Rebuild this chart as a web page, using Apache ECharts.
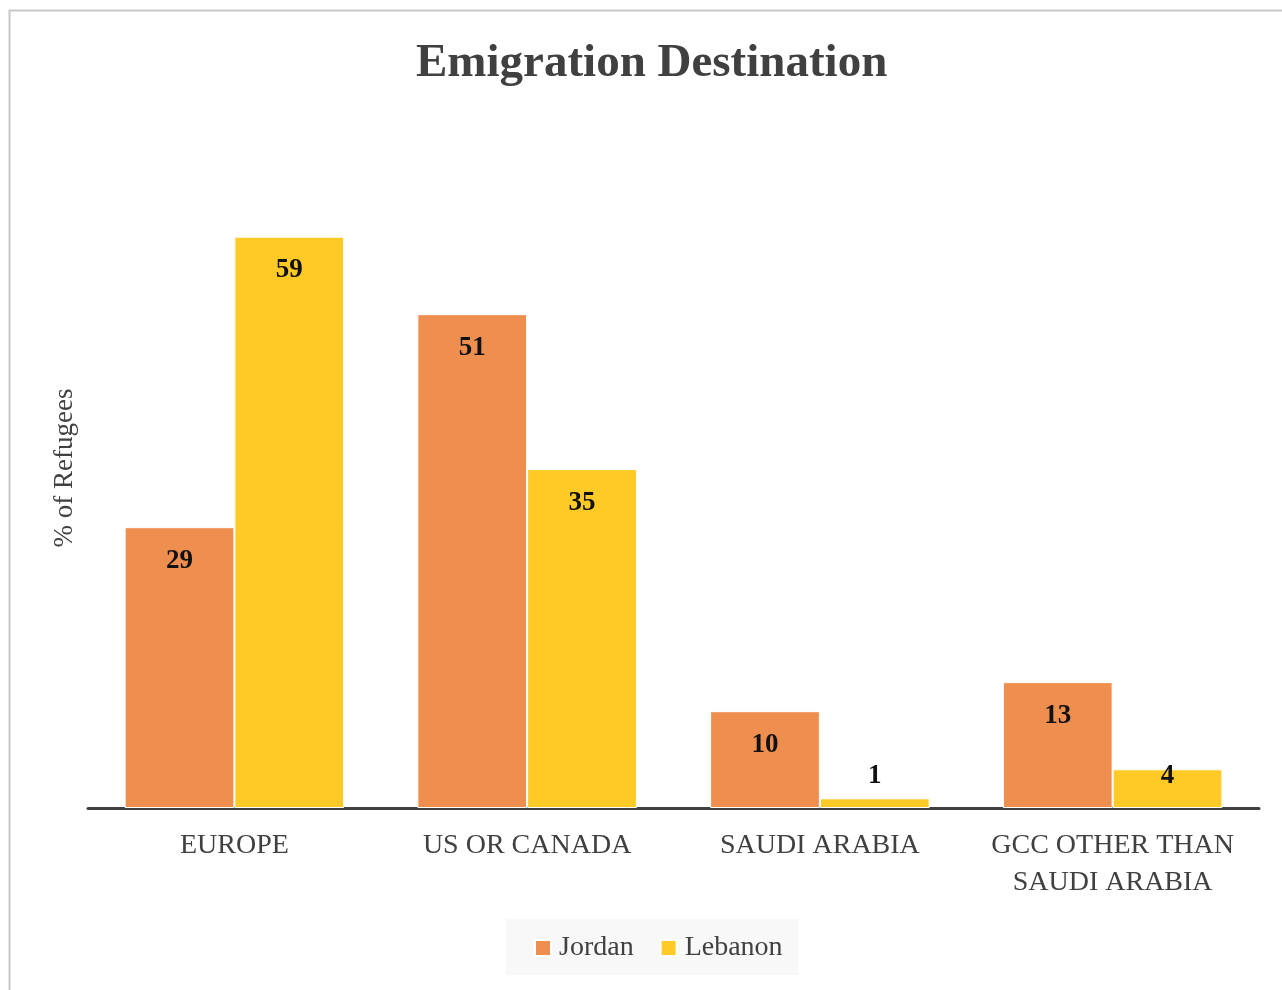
<!DOCTYPE html>
<html>
<head>
<meta charset="utf-8">
<script src="https://cdn.jsdelivr.net/npm/echarts@6/dist/echarts.min.js"></script>
<style>
html,body{margin:0;padding:0;background:#fff;}
#c{width:1282px;height:990px;}
</style>
</head>
<body>
<div id="c"></div>
<script>
const titleText = 'Emigration Destination';
const yAxisTitle = '% of Refugees';
const categories = ['EUROPE', 'US OR CANADA', 'SAUDI ARABIA', 'GCC OTHER THAN\nSAUDI ARABIA'];
const seriesNames = ['Jordan', 'Lebanon'];
const jordan = [29, 51, 10, 13];
const lebanon = [59, 35, 1, 4];

const FONT = '"Liberation Serif", "DejaVu Serif", serif';
const colors = ['#EF8F4F', '#FFC926'];

function makeData(vals) {
  return vals.map(v => {
    if (v < 5) {
      return { value: v, label: { position: 'insideBottom', distance: 18 } };
    }
    return { value: v };
  });
}

const chart = echarts.init(document.getElementById('c'), null, { renderer: 'canvas' });
const barLabel = {
  show: true,
  position: 'insideTop',
  distance: 20,
  fontFamily: FONT,
  fontWeight: 'bold',
  fontSize: 27,
  lineHeight: 27,
  color: '#111'
};
chart.setOption({
  animation: false,
  backgroundColor: '#fff',
  color: colors,
  title: {
    text: titleText,
    left: 411,
    top: 35,
    padding: [5, 5, 5, 5],
    textStyle: { fontFamily: FONT, fontWeight: 'bold', fontSize: 47, color: '#404040' }
  },
  graphic: [
    {
      type: 'rect',
      shape: { x: 9.5, y: 10.5, width: 1400, height: 1100 },
      style: { fill: 'none', stroke: '#c8c8c8', lineWidth: 2 },
      silent: true
    },
    {
      type: 'text',
      x: 65,
      y: 468,
      rotation: Math.PI / 2,
      style: {
        text: yAxisTitle,
        fontFamily: FONT,
        fontSize: 27,
        fill: '#404040',
        textAlign: 'center',
        textVerticalAlign: 'middle'
      },
      silent: true
    }
  ],
  legend: {
    data: seriesNames,
    left: 506,
    top: 919,
    backgroundColor: '#f8f8f8',
    padding: [15, 16, 13, 28],
    itemWidth: 16,
    itemHeight: 16,
    itemGap: 26,
    icon: 'rect',
    textStyle: { fontFamily: FONT, fontSize: 28, color: '#404040', padding: [0, 0, 0, 3] }
  },
  grid: { left: 88, right: 23, top: 227, bottom: 182, containLabel: false },
  xAxis: {
    type: 'category',
    data: categories,
    axisLine: { show: true, lineStyle: { color: '#404040', width: 3 } },
    axisTick: { show: false },
    axisLabel: {
      fontFamily: FONT,
      fontSize: 28,
      lineHeight: 37,
      color: '#404040',
      margin: 19,
      interval: 0
    }
  },
  yAxis: {
    type: 'value',
    min: 0,
    max: 60,
    interval: 10,
    axisLine: { show: false },
    axisTick: { show: false },
    axisLabel: { show: false },
    splitLine: { show: false }
  },
  series: [
    {
      name: seriesNames[0],
      type: 'bar',
      data: makeData(jordan),
      barGap: '0%',
      barCategoryGap: '25%',
      itemStyle: { color: colors[0], borderColor: '#ffffff', borderWidth: 1 },
      label: barLabel
    },
    {
      name: seriesNames[1],
      type: 'bar',
      data: makeData(lebanon),
      barGap: '0%',
      barCategoryGap: '25%',
      itemStyle: { color: colors[1], borderColor: '#ffffff', borderWidth: 1 },
      label: barLabel
    }
  ]
});
</script>
</body>
</html>
